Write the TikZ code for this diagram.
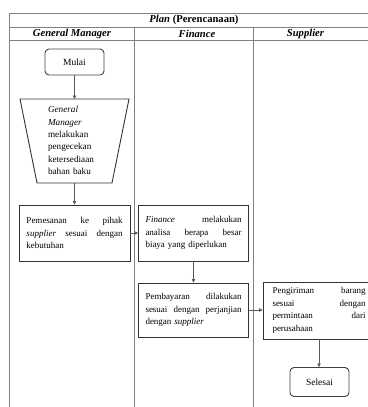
\documentclass[tikz,border=0pt]{standalone}
\usepackage{fontspec}
\setmainfont{Liberation Serif}
\usetikzlibrary{arrows.meta}
\newcommand\jl[2][96pt]{\leavevmode\hbox to #1{#2}}
\begin{document}
\begin{tikzpicture}[x=1pt,y=-1pt,
  tbl/.style={draw=black!50,line width=0.7pt},
  term/.style={draw=black!75,line width=0.9pt,rounded corners=4pt,minimum width=59pt,inner sep=0pt,font=\fontsize{9.5}{11}\selectfont},
  box/.style={draw=black!80,line width=0.9pt,inner sep=0pt,text width=96pt,align=left,font=\fontsize{9}{12.5}\selectfont},
  shapeline/.style={draw=black!80,line width=0.9pt},
  flow/.style={draw=black!65,line width=0.7pt,-{Triangle[length=3.5pt,width=3.5pt]}},
  hd/.style={font=\fontsize{10.6}{12}\selectfont\bfseries\itshape,inner sep=0pt}]
\useasboundingbox (0,0) rectangle (367,407);
% table
\draw[tbl] (9,407) -- (9,13) -- (380,13);
\draw[tbl] (9,27) -- (380,27);
\draw[tbl] (9,40) -- (380,40);
\draw[tbl] (134,27) -- (134,407);
\draw[tbl] (253,27) -- (253,407);
\node[hd] (plan) at (194,20) {Plan \textup{(Perencanaan)}};
\node[hd] (gm) at (72,33.5) {General Manager};
\node[hd] (fin) at (197,33.5) {Finance};
\node[hd] (sup) at (305.5,33.5) {Supplier};
% flow
\node[term,minimum height=26pt] (mulai) at (74.5,62) {Mulai};
\coordinate (cektop) at (74.5,99);
\coordinate (cekbot) at (74.5,183);
\draw[shapeline] (20,99) -- (129,99) -- (112,183) -- (37,183) -- cycle;
\node[align=left,text width=56pt,inner sep=0pt,font=\fontsize{9.2}{12.4}\selectfont] (cektxt) at (76,140.5) {\textit{General}\\\textit{Manager}\\melakukan\\pengecekan\\ketersediaan\\bahan baku};
\node[box,minimum width=111pt,minimum height=56pt] (pesan) at (74.5,233) {\jl{Pemesanan\hfill ke\hfill pihak}\\\jl{\textit{supplier}\hfill sesuai\hfill dengan}\\kebutuhan};
\node[box,minimum width=110pt,minimum height=56pt] (analisa) at (193.5,233) {\jl{\textit{Finance}\hfill melakukan}\\\jl{analisa\hfill berapa\hfill besar}\\biaya yang diperlukan};
\node[box,minimum width=110pt,minimum height=54pt] (bayar) at (193.5,310) {\jl{Pembayaran\hfill dilakukan}\\\jl{sesuai\hfill dengan\hfill perjanjian}\\dengan \textit{supplier}};
\node[box,text width=93pt,minimum width=112pt,minimum height=57pt] (kirim) at (319,310.5) {\jl[93pt]{Pengiriman\hfill barang}\\\jl[93pt]{sesuai\hfill dengan}\\\jl[93pt]{permintaan\hfill dari}\\perusahaan};
\node[term,minimum height=29pt] (selesai) at (319.5,382) {Selesai};
\draw[flow] (mulai.south) -- (cektop);
\draw[flow] (cekbot) -- (pesan.north);
\draw[flow] (pesan.east) -- (analisa.west);
\draw[flow] (analisa.south) -- (bayar.north);
\draw[flow] (bayar.east) -- (bayar.east -| kirim.west);
\draw[flow] (kirim.south) -- (kirim.south |- selesai.north);
\end{tikzpicture}
\end{document}
